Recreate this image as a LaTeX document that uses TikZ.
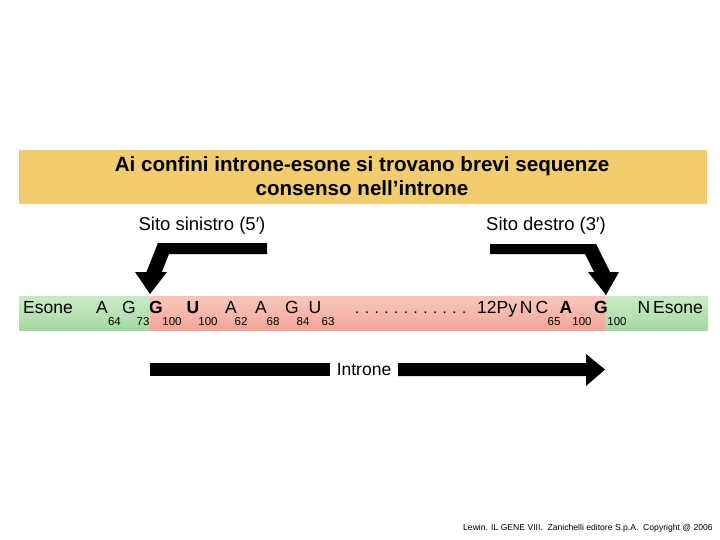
\documentclass[tikz,border=0pt]{standalone}
\usepackage{fontspec}
\setmainfont{Liberation Sans}
\usetikzlibrary{positioning,calc}
\definecolor{titlebg}{HTML}{F1CD6F}
\definecolor{exongreen}{HTML}{8ECE8E}
\definecolor{exonlight}{HTML}{C6E8C2}
\definecolor{intronred}{HTML}{EC8E7E}
\definecolor{intronlight}{HTML}{F8C4B8}

\pgfdeclareverticalshading{exonshade}{100bp}{color(0bp)=(exongreen);
  color(45bp)=(exonlight!70!exongreen); color(70bp)=(exonlight); color(85bp)=(exonlight);
  color(100bp)=(exongreen!95!black)}
\pgfdeclareverticalshading{intronshade}{100bp}{color(0bp)=(intronred);
  color(45bp)=(intronlight!70!intronred); color(70bp)=(intronlight); color(85bp)=(intronlight);
  color(100bp)=(intronred!95!black)}

\tikzset{
  seq/.style={anchor=base, inner sep=0pt, font=\fontsize{17.5}{17.5}\selectfont},
  seqbold/.style={seq, font=\fontsize{17.5}{17.5}\selectfont\bfseries},
  idx/.style={anchor=base, inner sep=0pt, font=\fontsize{11.5}{11.5}\selectfont},
  lbl/.style={inner sep=0pt, font=\fontsize{18.5}{18.5}\selectfont},
  exon/.style={anchor=north west, inner sep=0pt, minimum height=34pt, shading=exonshade},
  intron/.style={anchor=north west, inner sep=0pt, minimum height=34pt, shading=intronshade},
}

\begin{document}
\begin{tikzpicture}[x=1pt, y=-1pt]
  \useasboundingbox (0,0) rectangle (720,540);

  % title band
  \fill[titlebg] (19,150) rectangle (707,204);
  \node[align=center, inner sep=0pt, font=\fontsize{20.6}{24}\selectfont\bfseries] (title) at (362,176)
    {Ai confini introne-esone si trovano brevi sequenze\\consenso nell’introne};

  % splice site labels
  \node[lbl] (left) at (202,226) {Sito sinistro (5′)};
  \node[lbl] (right) at (546,226) {Sito destro (3′)};

  % exon / intron / exon strip
  \node[exon, minimum width=131pt] (exon1) at (19,296) {};
  \node[intron, minimum width=455pt] (intr) at (150,296) {};
  \node[exon, minimum width=103pt] (exon2) at (605,296) {};

  % bent arrows to the junctions
  \fill (267,243) -- (158,243) -- (146.4,272) -- (135,272) -- (150,294)
    -- (167,272) -- (161.8,272) -- (169,254) -- (267,254) -- cycle;
  \fill (490,244) -- (596,244) -- (610,272) -- (619,272) -- (606,295)
    -- (588,272) -- (594,272) -- (585,254) -- (490,254) -- cycle;

  % sequence
  \node[seq, anchor=base west] (ex1) at (23,313) {Esone};
  \foreach \x/\l [count=\n] in {102/A, 129/G, 231/A, 261/A, 292/G, 315/U}
    \node[seq] (nt\n) at (\x,313) {\l};
  \foreach \x/\l [count=\n] in {156/G, 193/U, 566/A, 601/G}
    \node[seqbold] (ntb\n) at (\x,313) {\l};
  \foreach \x/\v [count=\n] in {114.5/64, 143/73, 172/100, 208/100, 241/62, 273/68,
      303/84, 328/63, 554/65, 582/100, 617/100}
    \node[idx] (pc\n) at (\x,325) {\v};
  \node[seq, anchor=base west, font=\fontsize{15}{15}\selectfont] (dots) at (355,313)
    {. . . . . . . . . . . .};
  \node[seq, anchor=base west] (py) at (477,313) {12Py\,N\,C};
  \node[seq, anchor=base east] (ex2) at (703,313) {N\,Esone};

  % intron arrow
  \node[lbl, font=\fontsize{17.5}{17.5}\selectfont] (introne) at (364,369.5) {Introne};
  \fill (150,363) rectangle (330,376);
  \fill (398,363) -- (586,363) -- (586,354) -- (605,369.5) -- (586,386)
    -- (586,376) -- (398,376) -- cycle;

  % credit line
  \node[anchor=base west, inner sep=0pt, font=\fontsize{8.6}{8.6}\selectfont] (credit) at (463,530)
    {Lewin. IL GENE VIII.\ \ Zanichelli editore S.p.A.\ \ Copyright @ 2006};
\end{tikzpicture}
\end{document}
